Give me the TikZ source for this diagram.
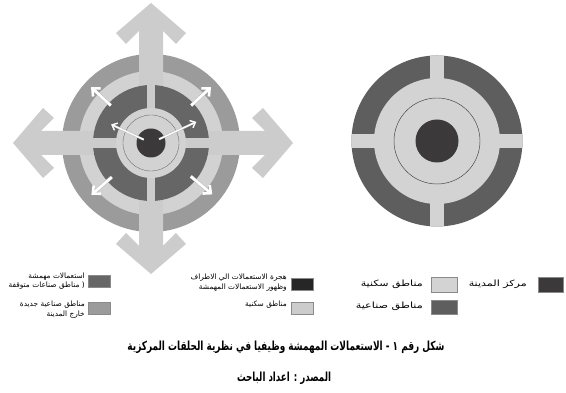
\documentclass[tikz,border=0pt]{standalone}
\usepackage{graphicx}
\usepackage{fontspec}
\newfontfamily\arabicfont[Script=Arabic]{DejaVu Sans}
\TeXXeTstate=1
\usetikzlibrary{arrows.meta}
\newcommand\fitW[2]{\resizebox{#1pt}{\height}{#2}}
\definecolor{ringmid}{HTML}{9B9B9B}
\definecolor{ringlight}{HTML}{D2D2D2}
\definecolor{arrowgray}{HTML}{CCCCCC}
\definecolor{ringdark}{HTML}{666666}
\definecolor{coredark}{HTML}{3B393A}
\definecolor{indgray}{HTML}{5E5E5E}
\definecolor{reslight}{HTML}{D3D3D3}
\definecolor{outline}{HTML}{8A8A8A}
\begin{document}
\begin{tikzpicture}[x=1pt,y=1pt,
  lgsmall/.style={font=\arabicfont\fontsize{7.4}{8}\selectfont, inner sep=0pt, anchor=east},
  lgbig/.style={font=\arabicfont\fontsize{8.6}{9}\selectfont, inner sep=0pt, anchor=east},
  capt/.style={font=\arabicfont\bfseries\fontsize{12.5}{14}\selectfont, inner sep=0pt},
  swatch/.style={draw=outline, line width=0.5pt, inner sep=0pt},
  whitearrow/.style={draw=white, line width=#1, -{Straight Barb[length=4.5pt,width=8pt]}},
]
\fill[white] (0,0) rectangle (566,393);
\useasboundingbox (0,0) rectangle (566,393);

% ---------- left diagram ----------
\begin{scope}[shift={(151,250)}]
  \fill[ringmid] (0,0) circle (89);
  \fill[ringlight] (0,0) circle (72);
  \foreach \ang/\T in {0/140, 90/138, 180/131, 270/142}{
    \fill[arrowgray, rotate=\ang] (12,0) -- (12,\T-28) -- (25,\T-41) -- (35,\T-30) -- (0,\T)
      -- (-35,\T-30) -- (-25,\T-41) -- (-12,\T-28) -- (-12,0) -- cycle;
  }
  \fill[ringdark] (0,0) circle (58);
  \begin{scope}
    \clip (0,0) circle (58);
    \fill[arrowgray] (-4,-60) rectangle (4,60);
    \fill[arrowgray] (-60,-5) rectangle (60,5);
  \end{scope}
  \fill[ringlight] (0,0) circle (35);
  \draw[gray!80!black, line width=0.35pt] (0,0) circle (28);
  \fill[coredark] (0,0) circle (14.5);
  % inner white arrows
  \draw[gray!60, line width=2.2pt] (155:8) -- (155:41);
  \draw[gray!60, line width=2.2pt] (25:9) -- (25:47);
  \draw[whitearrow=1.4pt] (155:8) -- (155:44);
  \draw[whitearrow=1.4pt] (25:9) -- (25:50);
  % outer white arrows
  \foreach \a/\ra/\rb in {43/55/82, 137/55/82, 221/52/79, 320/52/80}{
    \draw[gray!55, line width=3.4pt] (\a:\ra) -- (\a:\rb-3);
    \draw[draw=white, line width=2.6pt, -{Straight Barb[length=6pt,width=11pt]}] (\a:\ra) -- (\a:\rb);
  }
\end{scope}

% ---------- right diagram ----------
\begin{scope}[shift={(437,252)}]
  \fill[indgray] (0,0) circle (85.5);
  \begin{scope}
    \clip (0,0) circle (85.5);
    \fill[reslight] (-7,-90) rectangle (7,90);
    \fill[reslight] (-90,-7) rectangle (90,7);
  \end{scope}
  \fill[reslight] (0,0) circle (63);
  \draw[black!75, line width=0.45pt] (0,0) circle (43);
  \fill[coredark] (0,0) circle (21.5);
\end{scope}

% ---------- right legend ----------
\node[swatch, fill=coredark, minimum width=25pt, minimum height=15pt] (sCenter) at (550.5,108.5) {};
\node[lgbig] (tCenter) at (527,109) {\fitW{58}{\beginR مركز المدينة\endR}};
\node[swatch, fill=reslight, minimum width=26pt, minimum height=15pt] (sRes) at (444,108.5) {};
\node[lgbig] (tRes) at (423,109) {\fitW{62}{\beginR مناطق سكنية\endR}};
\node[swatch, fill=indgray, minimum width=26pt, minimum height=14pt] (sInd) at (444,86) {};
\node[lgbig] (tInd) at (423,87) {\fitW{67}{\beginR مناطق صناعية\endR}};

% ---------- left legends ----------
\node[swatch, fill=black!85, minimum width=22pt, minimum height=12pt] (sMig) at (302.5,108.5) {};
\node[lgsmall] (tMigA) at (287,115) {\beginR هجرة الاستعمالات الي الاطراف\endR};
\node[lgsmall] (tMigB) at (287,105) {\beginR وظهور الاستعمالات المهمشة\endR};
\node[swatch, fill=arrowgray, minimum width=22pt, minimum height=12pt] (sRes2) at (302.5,85) {};
\node[lgsmall] (tRes2) at (287,88) {\beginR مناطق سكنية\endR};

\node[swatch, fill=ringdark, minimum width=22pt, minimum height=12pt] (sMarg) at (99,112) {};
\node[lgsmall] (tMargA) at (85,116) {\beginR استعمالات مهمشة\endR};
\node[lgsmall] (tMargB) at (85,107) {\beginR ( مناطق صناعات متوقفة\endR};
\node[swatch, fill=ringmid, minimum width=22pt, minimum height=12pt] (sNew) at (99,85) {};
\node[lgsmall] (tNewA) at (85,88) {\beginR مناطق صناعية جديدة\endR};
\node[lgsmall] (tNewB) at (85,78) {\beginR خارج المدينة\endR};

% ---------- caption ----------
\node[capt] (cap1) at (286,46) {\fitW{317}{\beginR شكل رقم ١ -  الاستعمالات المهمشة وظيفيا في نظرية الحلقات المركزية\endR}};
\node[capt] (cap2) at (284,15) {\fitW{94}{\beginR المصدر : اعداد الباحث\endR}};
\end{tikzpicture}
\end{document}
